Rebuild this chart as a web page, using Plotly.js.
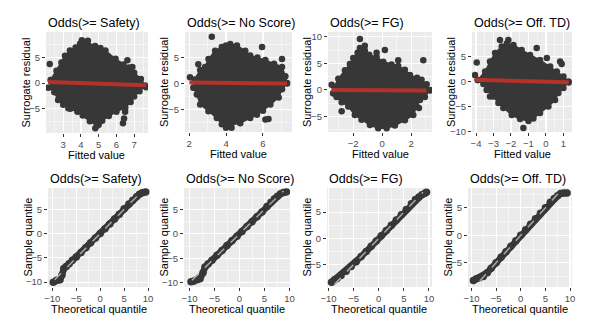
<!DOCTYPE html>
<html><head><meta charset="utf-8">
<script src="https://cdn.plot.ly/plotly-3.0.1.min.js"></script>
<style>html,body{margin:0;padding:0;background:#fff}#c{width:600px;height:325px}</style>
</head><body><div id="c"></div>
<script>
// ---------- text ----------
const panelTitles = ["Odds(>= Safety)", "Odds(>= No Score)", "Odds(>= FG)", "Odds(>= Off. TD)"];
const topXTitle = "Fitted value";
const topYTitle = "Surrogate residual";
const botXTitle = "Theoretical quantile";
const botYTitle = "Sample quantile";

// ---------- top row: dense residual clouds (outline of the dense cloud + isolated points) ----------
const safetyCloudX = [2.30,2.62,2.90,3.10,3.38,3.70,3.95,4.33,4.80,5.10,5.38,5.95,6.40,6.71,7.00,7.38,7.62,7.30,7.00,6.80,6.50,6.00,5.57,5.20,4.90,4.50,4.10,3.80,3.40,3.00,2.71,2.50,2.30];
const safetyCloudY = [0.6,2.4,4.0,5.3,6.3,6.9,7.6,7.9,7.2,6.8,6.3,4.7,3.6,3.0,2.0,0.8,-0.5,-1.6,-2.6,-3.7,-4.8,-5.6,-6.4,-7.3,-8.3,-7.4,-6.3,-5.6,-5.0,-4.2,-3.3,-1.8,-0.8];
const safetyOutX = [2.24,2.14,4.05,4.39,3.29,6.62,6.90,7.19,7.67,6.49,6.43,6.37,4.81,5.00];
const safetyOutY = [3.7,-0.9,8.3,8.2,-4.9,4.4,3.1,0.8,-0.8,-5.6,-6.9,-7.8,-8.8,-8.1];
const safetyFitX = [2.14, 7.67];
const safetyFitY = [0.2, -0.45];

const noScoreCloudX = [2.24,2.30,2.60,2.87,3.05,3.41,3.77,4.00,4.23,4.59,5.04,5.31,5.70,6.13,6.60,7.03,7.21,7.30,7.03,6.85,6.40,6.00,5.67,5.31,4.77,4.23,3.77,3.50,3.05,2.60,2.42];
const noScoreCloudY = [-0.8,0.8,2.6,3.2,4.7,6.3,7.0,7.3,7.6,7.3,6.3,5.4,5.0,4.5,3.8,3.2,1.4,0.0,-1.1,-2.7,-4.0,-5.2,-6.0,-6.6,-7.6,-8.0,-7.8,-6.6,-5.3,-4.0,-2.1];
const noScoreOutX = [2.05,2.50,3.23,5.95,7.03,6.13,6.30,4.00,4.30,7.30];
const noScoreOutY = [1.2,3.7,9.0,7.0,4.7,-6.9,-6.8,-8.5,-8.5,0.1];
const noScoreFitX = [2.02, 7.30];
const noScoreFitY = [0.2, 0.0];

const fgCloudX = [-3.38,-3.30,-3.03,-2.57,-2.23,-2.00,-1.70,-1.54,-1.20,-0.90,-0.39,0.07,0.64,1.10,1.56,1.91,2.40,2.71,3.06,3.29,2.94,2.60,2.37,2.14,1.56,0.87,0.30,-0.28,-0.85,-1.43,-1.89,-2.34,-2.80,-3.15];
const fgCloudY = [-0.6,0.6,2.1,3.7,4.9,6.0,7.0,7.9,7.4,6.6,6.2,5.3,4.8,4.5,3.8,2.8,2.3,1.9,1.1,0.0,-1.3,-1.9,-3.1,-4.7,-5.7,-6.7,-7.2,-7.2,-6.6,-5.6,-4.7,-3.1,-2.3,-1.3];
const fgOutX = [-3.49,-1.54,-1.20,-0.39,0.18,1.10,2.83,2.53,-2.80,3.30];
const fgOutY = [1.0,9.6,8.3,7.0,7.5,5.6,5.6,-3.4,-4.0,-0.1];
const fgFitX = [-3.50, 3.05];
const fgFitY = [0.0, -0.1];

const offTdCloudX = [-3.90,-3.48,-3.20,-2.91,-2.53,-2.24,-1.86,-1.39,-0.91,-0.34,0.24,0.62,1.00,1.29,1.00,0.71,0.52,0.14,-0.34,-0.72,-1.00,-1.48,-1.96,-2.44,-2.72,-3.00,-3.39,-3.58];
const offTdCloudY = [0.3,2.0,4.0,5.7,7.0,7.6,7.3,6.3,5.3,4.3,3.0,2.0,1.0,0.0,-1.3,-2.3,-3.7,-5.0,-6.3,-7.4,-7.9,-7.5,-6.7,-5.3,-4.3,-3.0,-1.7,-0.5];
const offTdOutX = [-3.96,-4.06,-3.20,-2.63,-2.15,-0.53,0.05,0.81,0.90,-1.29,1.30,0.30];
const offTdOutY = [3.8,1.3,-3.0,8.3,8.3,6.7,4.7,4.0,3.5,-9.3,-0.2,-3.7];
const offTdFitX = [-4.06, 1.30];
const offTdFitY = [0.33, -0.13];

// ---------- bottom row: QQ plots ----------
const safetyTheo = [-9.8,-9.1,-8.4,-8.0,-7.6,-7.1,-6.5,-5.8,-5.0,-4.0,-3.0,-2.0,-1.0,0.0,1.0,2.0,3.0,4.0,5.0,6.0,6.8,7.6,8.2,8.8,9.5];
const safetySamp = [-10.0,-9.6,-9.5,-8.6,-7.2,-6.8,-6.2,-5.5,-4.8,-3.9,-2.9,-1.9,-0.9,0.0,1.0,2.0,3.0,4.0,5.1,6.1,6.9,7.6,8.1,8.4,8.6];
const noScoreTheo = [-9.7,-9.2,-8.5,-7.9,-7.3,-6.9,-6.3,-5.5,-4.5,-3.5,-2.5,-1.5,-0.5,0.5,1.5,2.5,3.5,4.5,5.5,6.3,7.0,7.6,8.2,8.8,9.4];
const noScoreSamp = [-9.8,-9.7,-9.4,-9.2,-8.0,-6.8,-6.2,-5.4,-4.4,-3.4,-2.4,-1.4,-0.5,0.5,1.5,2.5,3.5,4.5,5.6,6.5,7.2,7.7,8.2,8.5,8.6];
const fgTheo = [-9.4,-8.8,-8.3,-7.5,-6.5,-5.5,-4.5,-3.5,-2.5,-1.5,-0.5,0.5,1.5,2.5,3.5,4.5,5.5,6.5,7.3,8.0,8.6,9.2,9.5];
const fgSamp = [-8.4,-7.9,-7.7,-7.1,-6.3,-5.4,-4.5,-3.5,-2.5,-1.5,-0.5,0.5,1.5,2.5,3.5,4.5,5.5,6.6,7.4,7.9,8.3,8.6,8.8];
const offTdTheo = [-9.6,-9.0,-8.4,-7.6,-6.8,-6.0,-5.0,-4.0,-3.0,-2.0,-1.0,0.0,1.0,2.0,3.0,4.0,5.0,6.0,6.8,7.5,8.1,8.7,9.4];
const offTdSamp = [-8.2,-7.9,-7.7,-7.5,-6.8,-6.0,-5.0,-4.0,-3.0,-2.0,-1.0,0.0,1.0,2.0,3.0,4.0,5.0,6.0,6.7,7.2,7.6,7.7,7.7];
// reference (identity) lines
const safetyRef = [-9.5, 8.8];
const noScoreRef = [-9.5, 8.8];
const fgRef = [-8.8, 8.8];
const offTdRef = [-8.3, 7.6];

// ---------- build ----------
const W = 600, H = 325;
const DARK = '#373737', RED = '#B5322B';
const topPanels = [
  [safetyCloudX, safetyCloudY, safetyOutX, safetyOutY, safetyFitX, safetyFitY],
  [noScoreCloudX, noScoreCloudY, noScoreOutX, noScoreOutY, noScoreFitX, noScoreFitY],
  [fgCloudX, fgCloudY, fgOutX, fgOutY, fgFitX, fgFitY],
  [offTdCloudX, offTdCloudY, offTdOutX, offTdOutY, offTdFitX, offTdFitY]
];
const botPanels = [
  [safetyTheo, safetySamp, safetyRef],
  [noScoreTheo, noScoreSamp, noScoreRef],
  [fgTheo, fgSamp, fgRef],
  [offTdTheo, offTdSamp, offTdRef]
];
// pixel boxes [left,right,top,bottom]
const boxes = [
  [46,148,32,133],[185,292,32,132],[328,432,32,132],[472,572,32,132],
  [48,150,188,287],[184,290,188,287],[327,432,188,287],[468,572,188,287]
];
const xr = [[2.03,7.78],[1.78,7.57],[-3.74,3.43],[-4.23,1.49],[-10.9,10.4],[-11.1,10.1],[-10.3,10.6],[-10.7,10.4]];
const yr = [[-9.7,9.9],[-9.3,9.9],[-7.9,10.9],[-10.1,9.9],[-11.0,9.4],[-10.9,9.4],[-9.3,9.6],[-9.4,8.6]];
const xdt = [1,2,2,1,5,5,5,5];
const ydt = [5,5,5,5,5,5,5,5];

const traces = [];
const layout = {
  width: W, height: H, margin: {l:0,r:0,t:0,b:0},
  paper_bgcolor: '#fff', plot_bgcolor: '#EBEBEB', showlegend: false,
  font: {family: 'Liberation Sans, Arial, sans-serif', color: '#000'},
  annotations: []
};
function axisName(i, a){ return a + (i===0 ? '' : (i+1)); }

for (let i=0;i<8;i++){
  const xa = 'x'+(i===0?'':(i+1)), ya = 'y'+(i===0?'':(i+1));
  const b = boxes[i];
  const common = {
    showgrid: true, gridcolor: '#FFFFFF', gridwidth: 1.1, zeroline: false, showline: false,
    ticks: 'outside', ticklen: 3, tickwidth: 1, tickcolor: '#333',
    tickfont: {size: 9.5, color: '#4D4D4D'}, fixedrange: true
  };
  layout[axisName(i,'xaxis')] = Object.assign({}, common, {
    domain: [b[0]/W, b[1]/W], anchor: ya, range: xr[i], dtick: xdt[i], tick0: 0,
    minor: {dtick: xdt[i]/2, showgrid: true, gridcolor: '#FAFAFA', gridwidth: 0.7, ticks: ''}
  });
  layout[axisName(i,'yaxis')] = Object.assign({}, common, {
    domain: [1-b[3]/H, 1-b[2]/H], anchor: xa, range: yr[i], dtick: ydt[i], tick0: 0,
    minor: {dtick: ydt[i]/2, showgrid: true, gridcolor: '#FAFAFA', gridwidth: 0.7, ticks: ''}
  });
  const isTop = i < 4, k = i % 4;
  layout.annotations.push({text: panelTitles[k], xref:'paper', yref:'paper', x: b[0]/W, y: 1-(b[2]-9)/H,
    xanchor:'left', yanchor:'middle', showarrow:false, font:{size:12.5, color:'#000'}});
  layout.annotations.push({text: isTop?topXTitle:botXTitle, xref:'paper', yref:'paper',
    x: (b[0]+b[1])/2/W, y: 1-(b[3]+22)/H, xanchor:'center', yanchor:'middle', showarrow:false,
    font:{size:11, color:'#000'}});
  layout.annotations.push({text: isTop?topYTitle:botYTitle, xref:'paper', yref:'paper',
    x: (b[0]-21)/W, y: 1-(b[2]+b[3])/2/H, xanchor:'center', yanchor:'middle', textangle:-90,
    showarrow:false, font:{size:11, color:'#000'}});

  if (isTop){
    const d = topPanels[k];
    traces.push({type:'scatter', x:d[0].concat([d[0][0]]), y:d[1].concat([d[1][0]]), xaxis:xa, yaxis:ya,
      mode:'lines+markers', fill:'toself', fillcolor:DARK, line:{color:DARK, width:1.5},
      marker:{size:6.5, color:DARK}, hoverinfo:'skip'});
    traces.push({type:'scatter', x:d[2], y:d[3], xaxis:xa, yaxis:ya, mode:'markers',
      marker:{size:6.5, color:DARK}, hoverinfo:'skip'});
    traces.push({type:'scatter', x:d[4], y:d[5], xaxis:xa, yaxis:ya, mode:'lines',
      line:{color:RED, width:4}, hoverinfo:'skip'});
  } else {
    const d = botPanels[k];
    traces.push({type:'scatter', x:d[0], y:d[1], xaxis:xa, yaxis:ya, mode:'lines+markers',
      line:{color:DARK, width:6.5}, marker:{size:7.5, color:DARK}, hoverinfo:'skip'});
    traces.push({type:'scatter', x:d[2], y:d[2], xaxis:xa, yaxis:ya, mode:'lines',
      line:{color:'#A8A8A8', width:1.5, dash:'dash'}, hoverinfo:'skip'});
  }
}
Plotly.newPlot('c', traces, layout, {staticPlot:true, displayModeBar:false});
</script></body></html>
